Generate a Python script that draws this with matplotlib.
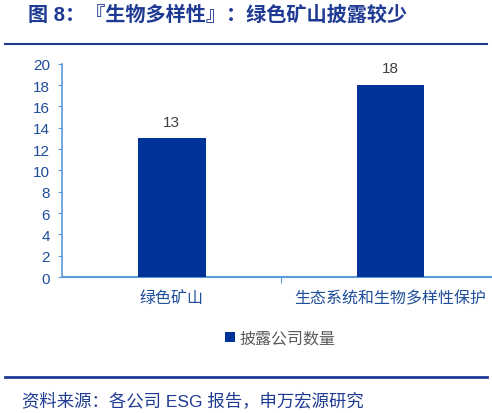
import matplotlib
matplotlib.use("Agg")
import matplotlib.pyplot as plt
from matplotlib.lines import Line2D

plt.rcParams['font.family'] = ['Liberation Sans', 'Noto Sans CJK SC', 'DejaVu Sans']

categories = ["绿色矿山", "生态系统和生物多样性保护"]
counts = [13, 18]
series_name = "披露公司数量"
y_ticks = [0, 2, 4, 6, 8, 10, 12, 14, 16, 18, 20]

title = "图 8：『生物多样性』：绿色矿山披露较少"
source = "资料来源：各公司 ESG 报告，申万宏源研究"

dark_blue = "#003399"
axis_blue = "#5B9BD5"
tick_blue = "#1F4E9A"

fig = plt.figure(figsize=(4.92, 4.14), dpi=100)
ax = fig.add_axes([0.127, 0.3285, 0.889, 0.5152])

x = range(len(categories))
bars = ax.bar(x, counts, width=0.31, color=dark_blue, label=series_name, zorder=3)
for xi, v in zip(x, counts):
    ax.text(xi, v + 0.9, str(v), ha="center", va="bottom", fontsize=11, color="#404040")

ax.set_xlim(-0.5, 1.5)
ax.set_ylim(0, 20)
ax.set_yticks(y_ticks)
ax.set_xticks([0.5])
ax.set_xticklabels([""])
ax.tick_params(axis="y", colors=axis_blue, labelcolor=tick_blue, labelsize=11,
               length=3, direction="out", pad=6)
ax.tick_params(axis="x", colors=axis_blue, length=4, direction="out")
for xi, c in zip(x, categories):
    ax.text(xi, -1.2, c, ha="center", va="top", fontsize=11.5, color=tick_blue)

for s in ["top", "right"]:
    ax.spines[s].set_visible(False)
ax.spines["left"].set_color(axis_blue)
ax.spines["bottom"].set_color(axis_blue)
ax.spines["left"].set_linewidth(1.2)
ax.spines["bottom"].set_linewidth(1.5)

fig.legend(handles=[bars], labels=[series_name], loc="center",
           bbox_to_anchor=(0.57, 0.18), frameon=False, fontsize=11.5,
           labelcolor="#595959", handlelength=0.6, handleheight=0.6,
           handletextpad=0.3)

fig.text(0.057, 0.963, title, fontsize=14.5, fontweight="bold", color="#1F3A93",
         va="center", ha="left")
fig.add_artist(Line2D([0.01, 0.99], [0.891, 0.891], color="#1F3A93", lw=1.5))
fig.add_artist(Line2D([0.01, 0.99], [0.087, 0.087], color="#1F3A93", lw=2.0))
fig.text(0.045, 0.033, source, fontsize=12.5, color="#1F3A93", va="center", ha="left")

fig.savefig("out.png", dpi=100)
